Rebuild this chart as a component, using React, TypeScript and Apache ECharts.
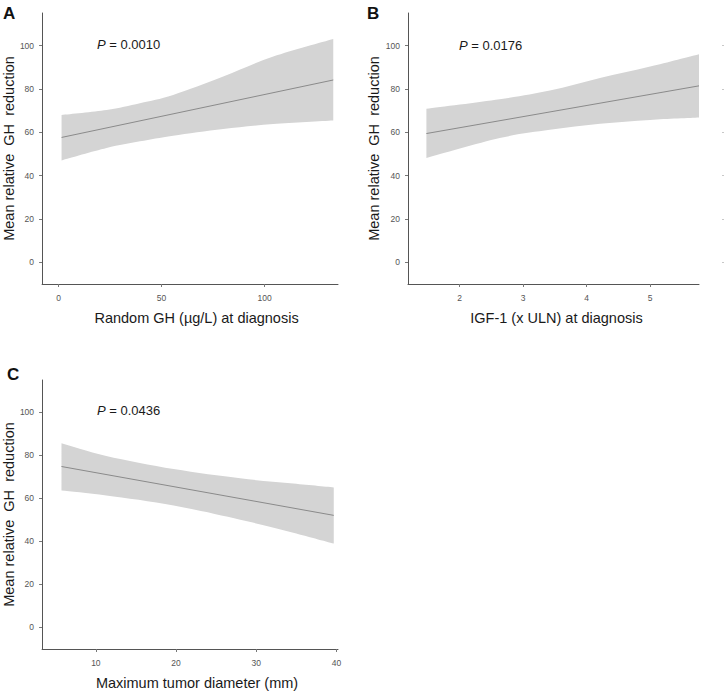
import React, { useEffect, useRef } from "react";
import * as echarts from "echarts";

// Panel A: Random GH (µg/L) at diagnosis
const aBandX = [1.45, 23.3, 39.5, 55.6, 79.9, 104.2, 133.3];
const aLower = [47.0, 52.7, 55.8, 58.4, 61.5, 63.8, 65.4];
const aUpper = [68.0, 70.3, 73.4, 77.2, 85.7, 94.9, 103.0];
const aMeanX = [1.45, 133.3];
const aMean = [57.6, 84.1];
const aTicks = [0, 50, 100];

// Panel B: IGF-1 (x ULN) at diagnosis
const bBandX = [1.475, 2.63, 3.42, 4.21, 5.0, 5.77];
const bLower = [48.1, 57.3, 61.1, 63.9, 65.7, 66.8];
const bUpper = [70.8, 75.2, 79.2, 85.0, 90.3, 96.0];
const bMeanX = [1.475, 5.77];
const bMean = [59.4, 81.4];
const bTicks = [2, 3, 4, 5];

// Panel C: Maximum tumor diameter (mm)
const cBandX = [5.71, 11.3, 19.7, 28.0, 34.25, 39.67];
const cLower = [63.6, 61.3, 56.7, 50.1, 44.4, 39.0];
const cUpper = [85.6, 79.7, 73.6, 69.3, 67.0, 65.1];
const cMeanX = [5.71, 39.67];
const cMean = [74.8, 52.1];
const cTicks = [10, 20, 30, 40];

const yTicks = [0, 20, 40, 60, 80, 100];
const pValues = ["0.0010", "0.0176", "0.0436"];

const FONT = "'Liberation Sans', Arial, sans-serif";
const AXIS_COLOR = "#555";
const BAND = "#d4d4d4";
const LINE = "#8a8a8a";

function curveThrough(ctx: any, pts: number[][]) {
  const n = pts.length;
  for (let i = 0; i < n - 1; i++) {
    const p0 = pts[Math.max(i - 1, 0)];
    const p1 = pts[i];
    const p2 = pts[i + 1];
    const p3 = pts[Math.min(i + 2, n - 1)];
    const c1x = p1[0] + (p2[0] - p0[0]) / 6;
    const c1y = p1[1] + (p2[1] - p0[1]) / 6;
    const c2x = p2[0] - (p3[0] - p1[0]) / 6;
    const c2y = p2[1] - (p3[1] - p1[1]) / 6;
    ctx.bezierCurveTo(c1x, c1y, c2x, c2y, p2[0], p2[1]);
  }
}

let registered = false;
function registerBand() {
  if (registered) return;
  registered = true;
  const BandShape = (echarts.graphic as any).extendShape({
    type: "ciBand",
    shape: { up: [], lo: [] },
    buildPath(ctx: any, shape: any) {
      const up: number[][] = shape.up;
      const lo: number[][] = shape.lo.slice().reverse();
      if (!up.length) return;
      ctx.moveTo(up[0][0], up[0][1]);
      curveThrough(ctx, up);
      ctx.lineTo(lo[0][0], lo[0][1]);
      curveThrough(ctx, lo);
      ctx.closePath();
    },
  });
  (echarts.graphic as any).registerShape("ciBand", BandShape);
}

function bandSeries(idx: number, xs: number[], lo: number[], hi: number[]) {
  return {
    type: "custom",
    xAxisIndex: idx,
    yAxisIndex: idx,
    silent: true,
    data: xs.map((v, i) => [v, lo[i], hi[i]]),
    encode: { x: 0, y: [1, 2] },
    z: 1,
    renderItem: (params: any, api: any) => {
      if (params.dataIndex !== 0) return null;
      const up = xs.map((v, i) => api.coord([v, hi[i]]));
      const low = xs.map((v, i) => api.coord([v, lo[i]]));
      return { type: "ciBand", shape: { up, lo: low }, style: { fill: BAND } };
    },
  };
}

function meanSeries(idx: number, xs: number[], ys: number[]) {
  return {
    type: "line",
    xAxisIndex: idx,
    yAxisIndex: idx,
    silent: true,
    symbol: "none",
    data: xs.map((v, i) => [v, ys[i]]),
    lineStyle: { color: LINE, width: 1 },
    z: 3,
  };
}

function xAxis(idx: number, min: number, max: number, ticks: number[], name: string, shift: number) {
  return {
    type: "value",
    gridIndex: idx,
    min,
    max,
    name,
    nameLocation: "middle",
    nameGap: 26,
    nameTextStyle: { fontFamily: FONT, fontSize: 14.5, color: "#1a1a1a", padding: [0, 0, 0, shift] },
    axisLine: { show: true, onZero: false, lineStyle: { color: AXIS_COLOR, width: 1 } },
    axisTick: { show: true, length: 3, customValues: ticks, lineStyle: { color: "#777" } },
    axisLabel: { customValues: ticks, fontFamily: FONT, fontSize: 8.5, color: "#555", margin: 9 },
    splitLine: { show: false },
  };
}

function yAxis(idx: number) {
  return {
    type: "value",
    gridIndex: idx,
    min: -10,
    max: 115,
    name: "Mean relative  GH  reduction",
    nameLocation: "middle",
    nameGap: 18,
    nameTextStyle: { fontFamily: FONT, fontSize: 14.5, color: "#1a1a1a" },
    axisLine: { show: true, onZero: false, lineStyle: { color: AXIS_COLOR, width: 1 } },
    axisTick: { show: true, length: 3, customValues: yTicks, lineStyle: { color: "#777" } },
    axisLabel: { customValues: yTicks, fontFamily: FONT, fontSize: 8.5, color: "#555", margin: 8 },
    splitLine: { show: false },
  };
}

function pText(x: number, y: number, p: string) {
  return {
    type: "text",
    x,
    y,
    style: {
      text: "{i|P} = " + p,
      fontFamily: FONT,
      fontSize: 13,
      fill: "#1a1a1a",
      verticalAlign: "middle",
      rich: { i: { fontStyle: "italic", fontFamily: FONT, fontSize: 13, fill: "#1a1a1a" } },
    },
  };
}

function letter(x: number, y: number, t: string) {
  return {
    type: "text",
    x,
    y,
    style: { text: t, fontFamily: FONT, fontSize: 17, fontWeight: "bold", fill: "#111", verticalAlign: "top" },
  };
}

export default function App() {
  const ref = useRef<HTMLDivElement>(null);
  useEffect(() => {
    if (!ref.current) return;
    registerBand();
    const chart = echarts.init(ref.current, null, { renderer: "svg" });
    chart.setOption({
      animation: false,
      backgroundColor: "#ffffff",
      grid: [
        { left: 42, top: 13, width: 296, height: 271 },
        { left: 408, top: 13, width: 291, height: 271 },
        { left: 42, top: 380, width: 296, height: 269 },
        { left: 724, top: 13, width: 50, height: 271 },
      ],
      xAxis: [
        xAxis(0, -8, 135.6, aTicks, "Random GH (µg/L) at diagnosis", 13),
        xAxis(1, 1.185, 5.77, bTicks, "IGF-1 (x ULN) at diagnosis", 6),
        xAxis(2, 3.29, 40.2, cTicks, "Maximum tumor diameter (mm)", 14),
        { type: "value", gridIndex: 3, min: 0, max: 1, show: false },
      ],
      yAxis: [
        yAxis(0),
        yAxis(1),
        yAxis(2),
        {
          type: "value",
          gridIndex: 3,
          min: -10,
          max: 115,
          axisLine: { show: false },
          axisTick: { show: true, length: 2, customValues: yTicks, lineStyle: { color: "#c8c8c8" } },
          axisLabel: { show: false },
          splitLine: { show: false },
        },
      ],
      series: [
        bandSeries(0, aBandX, aLower, aUpper),
        meanSeries(0, aMeanX, aMean),
        bandSeries(1, bBandX, bLower, bUpper),
        meanSeries(1, bMeanX, bMean),
        bandSeries(2, cBandX, cLower, cUpper),
        meanSeries(2, cMeanX, cMean),
        { type: "line", xAxisIndex: 3, yAxisIndex: 3, data: [], symbol: "none" },
      ],
      graphic: [
        letter(3, 5, "A"),
        letter(367, 5, "B"),
        letter(7, 366, "C"),
        pText(97, 44.5, pValues[0]),
        pText(459, 45.5, pValues[1]),
        pText(97, 410.5, pValues[2]),
      ],
    });
    return () => chart.dispose();
  }, []);
  return (
    <div
      ref={ref}
      style={{ position: "absolute", left: 0, top: 0, width: 724, height: 694 }}
    />
  );
}
